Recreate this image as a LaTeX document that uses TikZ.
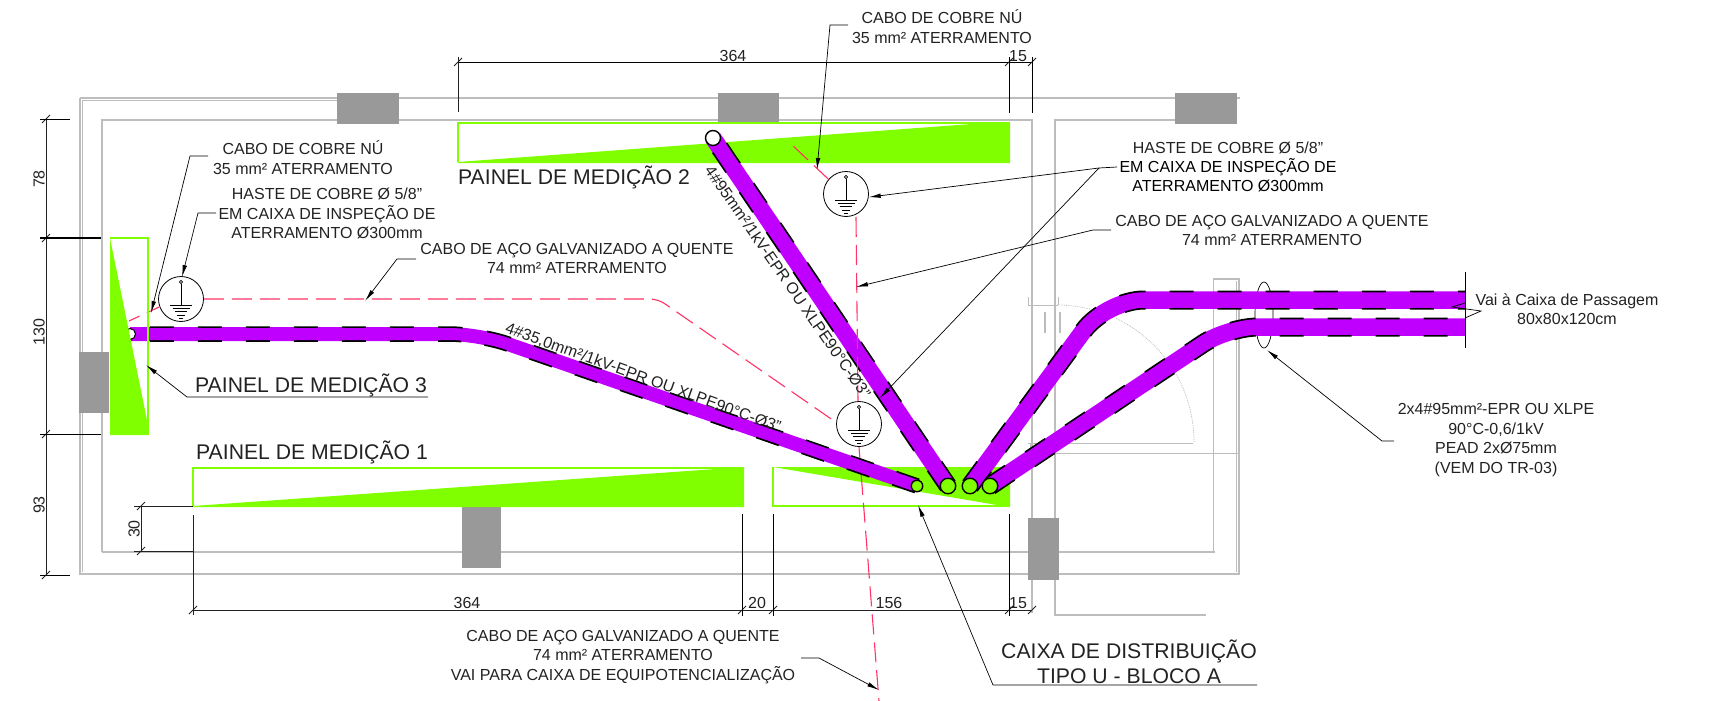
\documentclass[tikz,border=0pt]{standalone}
\usepackage{fontspec}
\setmainfont{Liberation Sans}
\usetikzlibrary{arrows.meta,shapes.geometric}
\definecolor{wallc}{HTML}{BDBDBD}
\definecolor{blockc}{HTML}{999999}
\definecolor{panelc}{HTML}{80FF00}
\definecolor{cablec}{HTML}{BF00FF}
\definecolor{earthr}{HTML}{FF3366}
\definecolor{inkc}{HTML}{222222}
\newcommand\conduitline[2]{%
  \draw[cablec,line width=#1pt] #2;
  \draw[black,line width=#1pt+1.5pt,dash pattern=on 24pt off 24pt] #2;
  \draw[cablec,line width=#1pt-2pt] #2;}
\newcommand\earthsym[3]{%
  \node[earthnode] (#1) at (#2,#3) {};
  \begin{scope}[shift={(#2,#3)},line width=0.7pt,black]
    \draw (0,-17) circle (1.7);
    \draw (0,-15) -- (0,6);
    \draw (-11,6) -- (11,6);
    \draw (-8.5,9.4) -- (8.5,9.4);
    \draw (-6,12.8) -- (6,12.8);
    \draw (-4,16) -- (4,16);
    \draw (-2,19) -- (2,19);
  \end{scope}}
\newcommand\dimtick[2]{\draw[dimline] (#1-4,#2+4) -- (#1+4,#2-4);}
\tikzset{
  wall/.style={wallc,line width=1.7pt},
  wallthin/.style={wallc,line width=0.8pt},
  blockbox/.style={fill=blockc,draw=none},
  panelline/.style={draw=panelc,line width=1.4pt},
  panelfill/.style={fill=panelc,draw=none},
  redline/.style={earthr,line width=1.1pt,dash pattern=on 20pt off 8pt},
  earthnode/.style={circle,draw=black,line width=0.8pt,fill=white,minimum size=45pt,inner sep=0pt},
  leader/.style={draw=black,line width=0.7pt,-{Latex[length=12pt,width=4.5pt]}},
  plainleader/.style={draw=black,line width=0.7pt},
  dimline/.style={draw=inkc,line width=0.8pt},
  extline/.style={draw=black,line width=0.8pt},
  lab/.style={inner sep=0pt,align=center,text=inkc,font=\fontsize{16}{19.4}\selectfont},
  dimlab/.style={inner sep=0pt,text=inkc,font=\fontsize{16}{18}\selectfont},
  big/.style={inner sep=0pt,align=center,text=inkc,font=\fontsize{21.2}{25}\selectfont},
  endcircle/.style={circle,draw=black,line width=1.4pt,inner sep=0pt},
}
\begin{document}
\begin{tikzpicture}[x=1pt,y=-1pt]
\useasboundingbox (0,0) rectangle (1709,701);
% walls
\draw[wall] (80,98) -- (1240,98);
\draw[wallthin] (82,100) -- (337,100);
\draw[wall] (80,98) -- (80,574) -- (1239,574) -- (1239,279) -- (1213.5,279) -- (1213.5,552);
\draw[wallthin] (82,100) -- (82,572);
\draw[wallthin] (1236,281) -- (1236,572);
\draw[wall] (102,552) -- (1215,552);
\draw[wall] (102,552) -- (102,120) -- (1032,120) -- (1032,613);
\draw[wall] (1175,120) -- (1055,120) -- (1055,615) -- (1206,615);
% door
\draw[wallthin,densely dotted] (1057,305) arc[start angle=-90,end angle=0,radius=137];
\draw[wallthin] (1193,443) -- (1028,443);
\draw[wallthin] (1030,453) -- (1239,453);
\draw[wallthin] (1030,443) -- (1030,453);
\draw[wallthin] (1028,305) -- (1058,305);
\draw[wallthin] (1028,297) -- (1028,305);
\draw[wallthin] (1058,297) -- (1058,305);
\draw[wall,line width=1.1pt] (1045,312) -- (1045,333);
\draw[wall,line width=1.1pt] (1060,312) -- (1060,333);
% blocks
\fill[blockbox] (337,93) rectangle (399,124);
\fill[blockbox] (718,93) rectangle (779,124);
\fill[blockbox] (1175,93) rectangle (1237,124);
\fill[blockbox] (79,352) rectangle (109,413);
\fill[blockbox] (462,507) rectangle (501,568);
\fill[blockbox] (1028,518) rectangle (1059,580);
% panels 1 and 2
\fill[panelfill] (458,162) -- (985,123) -- (1010,123) -- (1010,163) -- (458,163) -- cycle;
\draw[panelline] (1010,123) -- (458,123) -- (458,162);
\fill[panelfill] (193,506) -- (744,467) -- (744,507) -- (193,507) -- cycle;
\draw[panelline] (744,468) -- (193,468) -- (193,506);
\fill[panelfill] (773,467) -- (1010,467) -- (1010,507) -- (997,505) -- cycle;
\draw[panelline] (773,467) -- (773,506) -- (1010,506);
% earth electrodes
\earthsym{earthA}{181}{299}
\earthsym{earthB}{859}{424}
\earthsym{earthC}{846}{194}
% red earth lines
\coordinate (redtop) at (789,142);
\coordinate (redleft) at (129,321);
\coordinate (redbend) at (658,299);
\coordinate (redbottom) at (879,701);
\draw[redline,rounded corners=8pt] (earthA.east) -- (redbend) -- (837,423);
\draw[earthr,line width=1.1pt,dash pattern=on 14pt off 8pt] (earthA.-160) -- (redleft);
\draw[earthr,line width=1.1pt,dash pattern=on 20pt off 8pt] (earthC.140) -- (redtop);
\draw[redline] (earthB.south) -- (redbottom);
% ellipse around the two ducts
\node[ellipse,draw=black,line width=0.7pt,minimum width=18pt,minimum height=66pt,inner sep=0pt] (duct) at (1264,315) {};
% conduits
\conduitline{14}{[rounded corners=30pt] (917,486) -- (479,334) -- (130,334)}
\conduitline{17}{(948,486) -- (713,138)}
\conduitline{17.5}{[rounded corners=38pt] (970,486) -- (1106,300) -- (1465,300)}
\conduitline{17.5}{[rounded corners=30pt] (990,486) -- (1228,327) -- (1465,327)}
\node[endcircle,fill=panelc,minimum size=11.5pt] (endA) at (917,486) {};
\node[endcircle,fill=white,minimum size=15pt] (endB2) at (713,138) {};
\node[endcircle,fill=panelc,minimum size=15.5pt] (endB) at (948,486) {};
\node[endcircle,fill=panelc,minimum size=15.5pt] (endC) at (970,486) {};
\node[endcircle,fill=panelc,minimum size=15.5pt] (endD) at (990,486) {};
\draw[redline] (856,217) -- (858,401);
\node[endcircle,fill=white,line width=1pt,minimum size=11pt] (endA2) at (130,334) {};
% panel 3 over the conduit
\fill[panelfill] (110,238) -- (148,425) -- (148,435) -- (110,435) -- cycle;
\draw[panelline] (110,238) -- (148,238) -- (148,435);
% break line at conduit ends
\coordinate (brT) at (1465,272);
\coordinate (brB) at (1465,348);
\draw[plainleader] (brT) -- (brB);
\draw[plainleader] (1465,303) -- (1452,307) -- (1481,311) -- (1465,318);
% dimensions left
\draw[dimline] (46,119) -- (46,575);
\dimtick{46}{119}\dimtick{46}{238}\dimtick{46}{434}\dimtick{46}{575}
\draw[extline] (40,119) -- (70,119);
\draw[extline,line width=1.3pt] (40,238) -- (101,238);
\draw[extline] (40,434) -- (101,434);
\draw[extline] (40,575) -- (70,575);
\node[dimlab,rotate=90] (d78) at (39,179) {78};
\node[dimlab,rotate=90] (d130) at (39,332) {130};
\node[dimlab,rotate=90] (d93) at (39,505) {93};
% dimension 30
\draw[dimline] (141,506) -- (141,551);
\dimtick{141}{506}\dimtick{141}{551}
\draw[dimline] (134,506) -- (193,506);
\draw[dimline] (134,551) -- (193,551);
\node[dimlab,rotate=90] (d30) at (134,529) {30};
% dimensions bottom
\draw[dimline] (193,610) -- (1032,610);
\foreach \xx in {193,742,773,1009,1032} {\dimtick{\xx}{610}}
\draw[dimline] (193,515) -- (193,615);
\draw[extline] (742,514) -- (742,616);
\draw[extline] (773,514) -- (773,616);
\draw[extline] (1009,514) -- (1009,616);
\node[dimlab] (b364) at (467,603) {364};
\node[dimlab] (b20) at (757,603) {20};
\node[dimlab] (b156) at (889,603) {156};
\node[dimlab] (b15) at (1018,603) {15};
% dimensions top
\draw[extline] (458,62) -- (1032,62);
\foreach \xx in {458,1009,1032} {\dimtick{\xx}{62}}
\draw[dimline] (458,57) -- (458,112);
\draw[extline] (1009,57) -- (1009,113);
\draw[extline] (1032,57) -- (1032,113);
\node[dimlab] (t364) at (733,56) {364};
\node[dimlab] (t15) at (1018,56) {15};
% panel titles
\node[big] (p3) at (311,385) {PAINEL DE MEDIÇÃO 3};
\node[big] (p1) at (312,452) {PAINEL DE MEDIÇÃO 1};
\node[big] (p2) at (574,177) {PAINEL DE MEDIÇÃO 2};
\node[big] (caixa) at (1129,662) {CAIXA DE DISTRIBUIÇÃO\\TIPO U - BLOCO A};
% conduit labels
\node[lab,rotate=-20] (cabA) at (643,378) {4\#35,0mm²/1kV-EPR OU XLPE90°C-Ø3"};
\node[lab,rotate=-55.3] (cabB) at (788,282) {4\#95mm²/1kV-EPR OU XLPE90°C-Ø3"};
% labels
\node[lab] (l1) at (303,157.5) {CABO DE COBRE NÚ\\35 mm² ATERRAMENTO};
\node[lab] (l2) at (327,213.5) {HASTE DE COBRE Ø 5/8"\\EM CAIXA DE INSPEÇÃO DE\\ATERRAMENTO Ø300mm};
\node[lab] (l3) at (577,258.5) {CABO DE AÇO GALVANIZADO A QUENTE\\74 mm² ATERRAMENTO};
\node[lab] (l4) at (942,26.5) {CABO DE COBRE NÚ\\35 mm² ATERRAMENTO};
\node[lab] (l5) at (1228,167) {HASTE DE COBRE Ø 5/8"\\\textcolor{black}{EM CAIXA DE INSPEÇÃO DE}\\\textcolor{black}{ATERRAMENTO Ø300mm}};
\node[lab] (l6) at (1272,230.5) {CABO DE AÇO GALVANIZADO A QUENTE\\74 mm² ATERRAMENTO};
\node[lab] (l7) at (623,657) {CABO DE AÇO GALVANIZADO A QUENTE\\74 mm² ATERRAMENTO\\VAI PARA CAIXA DE EQUIPOTENCIALIZAÇÃO};
\node[lab] (l8) at (1567,309) {Vai à Caixa de Passagem\\80x80x120cm};
\node[lab] (l9) at (1496,440) {2x4\#95mm²-EPR OU XLPE\\90°C-0,6/1kV\\PEAD 2xØ75mm\\(VEM DO TR-03)};
% leaders
\draw[leader] (208,156) -- (190,156) -- (151,313);
\draw[leader] (216,213) -- (198,213) -- (182,277);
\draw[leader] (416,259) -- (397,259) -- (365,301);
\draw[leader] (428,397) -- (187,397) -- (146,365);
\draw[leader] (848,25) -- (830,25) -- (817,170);
\draw[leader] (1117,167) -- (1099,168) -- (earthC.-8);
\draw[leader] (1099,168) -- (880,398);
\draw[leader] (1111,230) -- (1093,230) -- (856,287);
\draw[leader] (801,658) -- (819,658) -- (879,690);
\draw[leader] (1257,685) -- (993,685) -- (918,505);
\draw[leader] (1394,441) -- (1382,441) -- (1267,350);
\end{tikzpicture}
\end{document}
